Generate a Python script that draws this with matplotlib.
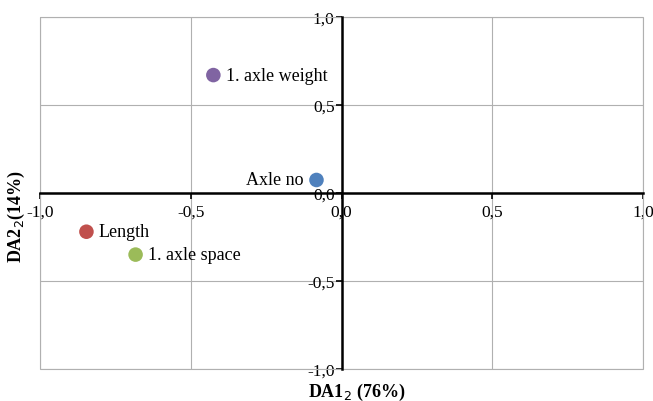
import matplotlib.pyplot as plt
from matplotlib.ticker import FuncFormatter, MultipleLocator
from matplotlib.patches import Rectangle

# loadings on the first two discriminant axes
variables = ["1. axle weight", "Axle no", "Length", "1. axle space"]
da1 = [-0.425, -0.083, -0.846, -0.683]
da2 = [0.67, 0.074, -0.22, -0.35]
colors = ["#8064A2", "#4F81BD", "#C0504D", "#9BBB59"]
label_side = ["right", "left", "right", "right"]

plt.rcParams["font.family"] = ["Liberation Serif", "DejaVu Serif"]


def coma(v, pos):
    return f"{v:.1f}".replace(".", ",")


def main():
    fig = plt.figure(figsize=(6.53, 4.02), dpi=100)
    ax = fig.add_axes([40 / 653, 32 / 402, 603 / 653, 352 / 402])

    ax.set_xlim(-1, 1)
    ax.set_ylim(-1, 1)
    ax.xaxis.set_major_locator(MultipleLocator(0.5))
    ax.yaxis.set_major_locator(MultipleLocator(0.5))
    ax.xaxis.set_major_formatter(FuncFormatter(coma))
    ax.yaxis.set_major_formatter(FuncFormatter(coma))
    ax.grid(True, color="#b0b0b0", linewidth=0.8)
    ax.set_axisbelow(True)

    # axes crossing at the origin
    for s in ["top", "right"]:
        ax.spines[s].set_visible(False)
    ax.spines["left"].set_position(("data", 0))
    ax.spines["bottom"].set_position(("data", 0))
    ax.spines["left"].set_linewidth(1.8)
    ax.spines["bottom"].set_linewidth(1.8)
    ax.tick_params(axis="both", labelsize=12.5, length=4, width=1.2,
                   direction="out")
    ax.tick_params(axis="x", pad=4)
    ax.tick_params(axis="y", pad=1)
    ax.add_patch(Rectangle((0, 0), 1, 1, transform=ax.transAxes, fill=False,
                           edgecolor="#b0b0b0", linewidth=0.8, clip_on=False))

    for name, x, y, c, side in zip(variables, da1, da2, colors, label_side):
        ax.scatter(x, y, s=110, color=c, zorder=3, edgecolors="none")
        if side == "right":
            ax.annotate(name, (x, y), xytext=(9, 0), textcoords="offset points",
                        ha="left", va="center", fontsize=13)
        else:
            ax.annotate(name, (x, y), xytext=(-9, 0), textcoords="offset points",
                        ha="right", va="center", fontsize=13)

    fig.text(357 / 653, 10 / 402, "DA1$_2$ (76%)", ha="center", va="center",
             fontsize=13, fontweight="bold")
    fig.text(16 / 653, 185 / 402, "DA2$_2$(14%)", ha="center", va="center",
             rotation=90, fontsize=13, fontweight="bold")

    fig.savefig("out.png", dpi=100)


if __name__ == "__main__":
    main()
